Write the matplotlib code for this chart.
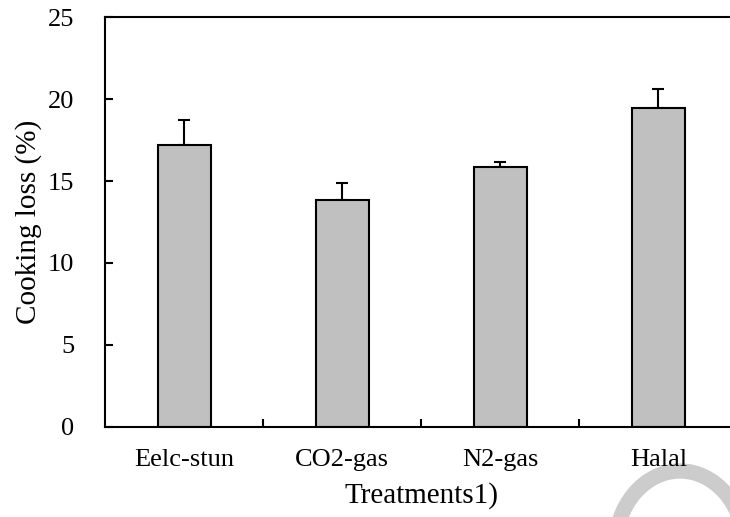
import numpy as np
import matplotlib
matplotlib.use('Agg')
import matplotlib.pyplot as plt
from matplotlib.patches import Arc

plt.rcParams['font.family'] = ['Liberation Serif', 'DejaVu Serif']

categories = ['Eelc-stun', 'CO2-gas', 'N2-gas', 'Halal']
cooking_loss = [17.2, 13.85, 15.85, 19.45]
sd = [1.55, 1.05, 0.3, 1.15]
y_ticks = [0, 5, 10, 15, 20, 25]

fig = plt.figure(figsize=(7.3, 5.17), dpi=100)
ax = fig.add_axes([0.1438, 0.1741, 0.8664, 0.793])

x = np.arange(len(categories))
ax.bar(x, cooking_loss, width=0.335, color='#c0c0c0', edgecolor='black',
       linewidth=1.5, zorder=2)
ax.errorbar(x, cooking_loss, yerr=[np.zeros(len(sd)), sd], fmt='none',
            ecolor='black', elinewidth=1.5, capsize=4.3, capthick=1.5, zorder=1)

ax.set_xlim(-0.5, 3.5)
ax.set_ylim(0, 25)
ax.set_yticks(y_ticks)
ax.set_xticks(x)
ax.set_xticklabels(categories)
ax.set_xticks([0.5, 1.5, 2.5], minor=True)

ax.tick_params(axis='y', direction='in', length=6, width=1.5, pad=22, labelsize=19)
ax.tick_params(axis='x', which='major', length=0, pad=16, labelsize=19)
ax.tick_params(axis='x', which='minor', direction='in', length=6, width=1.5)

for s in ax.spines.values():
    s.set_linewidth(1.5)

ax.set_ylabel('Cooking loss (%)', fontsize=21, labelpad=4)
ax.set_xlabel('Treatments1)', fontsize=21, labelpad=8)

# 水印弧线
arc = Arc((6.80, -0.32), 1.30, 1.56, theta1=0, theta2=180,
          transform=fig.dpi_scale_trans, color='#cccccc', linewidth=11, zorder=0)
fig.add_artist(arc)

fig.savefig('out.png', dpi=100)
